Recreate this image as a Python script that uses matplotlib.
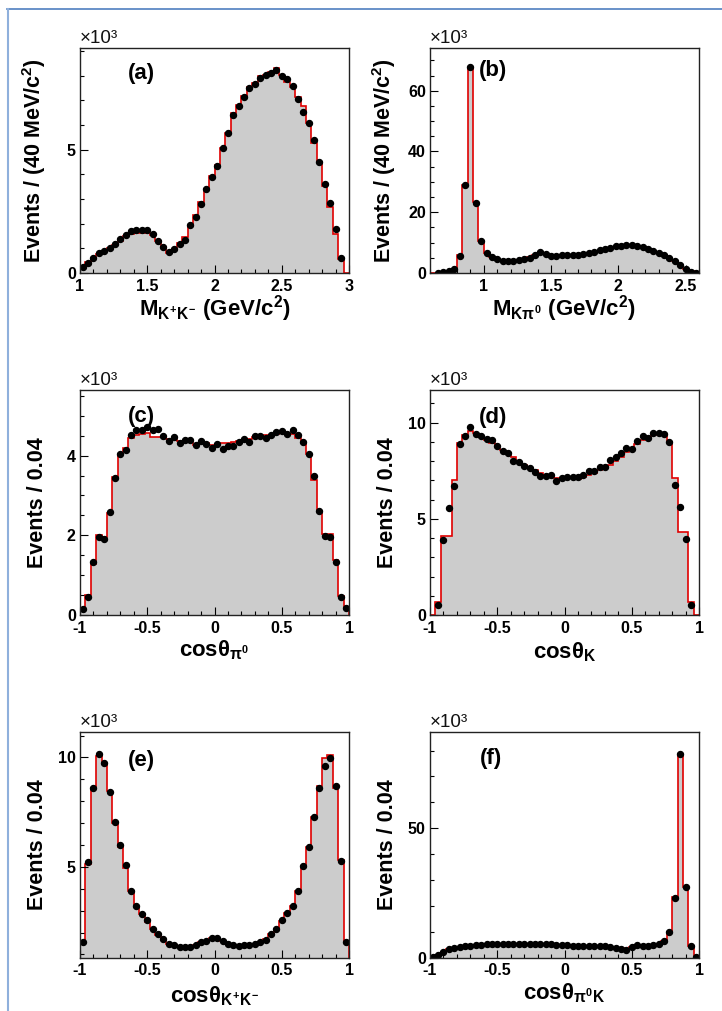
import numpy as np
import matplotlib
matplotlib.use('Agg')
import matplotlib.pyplot as plt
from matplotlib.ticker import MultipleLocator, FuncFormatter
from matplotlib.lines import Line2D

plt.rcParams['font.family'] = 'Liberation Sans'
plt.rcParams['font.weight'] = 'bold'
plt.rcParams['mathtext.fontset'] = 'custom'
plt.rcParams['mathtext.rm'] = 'Liberation Sans:bold'
plt.rcParams['mathtext.it'] = 'Liberation Sans:bold'
plt.rcParams['mathtext.bf'] = 'Liberation Sans:bold'
plt.rcParams['axes.unicode_minus'] = False

nan = np.nan

# (a) M(K+K-), 1.0 - 3.0 GeV/c2, 40 MeV bins, units of 10^3
mkk_data = [0.24, 0.42, 0.62, 0.80, 0.89, 1.00, 1.17, 1.36, 1.54, 1.71,
            1.75, 1.76, 1.76, 1.57, 1.30, 1.07, 0.85, 0.98, 1.18, 1.33,
            1.95, 2.29, 2.78, 3.39, 3.89, 4.32, 5.05, 5.66, 6.41, 6.79,
            7.15, 7.49, 7.67, 7.91, 8.05, 8.13, 8.25, 8.01, 7.87, 7.57,
            7.06, 6.54, 6.10, 5.41, 4.49, 3.60, 2.82, 1.78, 0.62, nan]
mkk_mc = [0.25, 0.43, 0.62, 0.78, 0.90, 1.02, 1.15, 1.30, 1.48, 1.60,
          1.63, 1.63, 1.63, 1.55, 1.30, 1.05, 0.80, 0.93, 1.22, 1.46,
          1.90, 2.36, 2.86, 3.40, 3.92, 4.36, 5.07, 5.66, 6.48, 6.83,
          7.19, 7.54, 7.72, 7.98, 8.05, 8.15, 8.32, 8.05, 7.76, 7.55,
          7.12, 6.76, 6.10, 5.26, 4.49, 3.53, 2.68, 1.60, 0.55, 0.0]

# (b) M(K pi0), 0.6 - 2.6 GeV/c2
mkpi_data = [nan, 0.1, 0.3, 0.6, 1.4, 5.5, 28.9, 67.7, 23.2, 10.4,
             6.6, 5.3, 4.5, 4.0, 3.85, 4.0, 4.3, 4.5, 5.0, 5.9,
             7.0, 6.4, 5.6, 5.7, 5.8, 5.9, 5.9, 6.0, 6.4, 6.7,
             6.9, 7.4, 7.8, 8.2, 8.8, 8.9, 9.2, 9.1, 8.8, 8.4,
             7.8, 7.3, 6.7, 5.9, 4.9, 4.1, 2.7, 1.4, 0.4, 0.1]
mkpi_mc = [0.0, 0.1, 0.3, 0.6, 1.3, 5.8, 28.9, 67.5, 23.4, 10.4,
           6.5, 5.3, 4.5, 4.0, 3.9, 4.0, 4.3, 4.6, 5.1, 5.9,
           6.8, 6.3, 5.6, 5.6, 5.8, 5.9, 5.9, 6.0, 6.4, 6.7,
           6.9, 7.3, 7.7, 8.2, 8.7, 8.9, 9.1, 9.1, 8.8, 8.4,
           7.8, 7.3, 6.7, 5.9, 4.9, 4.0, 2.7, 1.4, 0.5, 0.1]

# (c) cos(theta_pi0)
cpi_data = [0.14, 0.46, 1.34, 1.97, 1.92, 2.58, 3.44, 4.03, 4.13, 4.51,
            4.64, 4.64, 4.72, 4.64, 4.66, 4.50, 4.37, 4.48, 4.33, 4.39,
            4.39, 4.28, 4.38, 4.30, 4.18, 4.29, 4.16, 4.25, 4.25, 4.34,
            4.43, 4.35, 4.49, 4.49, 4.45, 4.53, 4.59, 4.61, 4.55, 4.65,
            4.53, 4.34, 4.03, 3.49, 2.60, 1.98, 1.95, 1.34, 0.46, 0.18]
cpi_mc = [0.18, 0.50, 1.29, 2.00, 1.97, 2.57, 3.47, 4.03, 4.20, 4.45,
          4.53, 4.55, 4.57, 4.46, 4.46, 4.46, 4.43, 4.40, 4.38, 4.38,
          4.38, 4.28, 4.32, 4.32, 4.28, 4.30, 4.31, 4.32, 4.35, 4.36,
          4.40, 4.42, 4.46, 4.49, 4.53, 4.53, 4.55, 4.57, 4.57, 4.55,
          4.44, 4.33, 4.03, 3.40, 2.60, 2.03, 2.03, 1.37, 0.47, 0.15]

# (d) cos(theta_K)
ck_data = [nan, 0.52, 3.91, 5.57, 6.70, 8.87, 9.31, 9.76, 9.41, 9.29,
           9.15, 9.10, 8.80, 8.52, 8.40, 8.02, 7.93, 7.73, 7.62, 7.45,
           7.22, 7.20, 7.27, 6.96, 7.14, 7.17, 7.17, 7.19, 7.27, 7.50,
           7.47, 7.69, 7.69, 8.07, 8.23, 8.40, 8.70, 8.63, 9.05, 9.32,
           9.20, 9.46, 9.46, 9.41, 8.98, 6.75, 5.61, 3.94, 0.50, nan]
ck_mc = [0.0, 0.68, 4.10, 4.10, 7.03, 8.94, 9.35, 9.55, 9.45, 9.25,
         9.10, 8.95, 8.80, 8.60, 8.40, 8.20, 8.00, 7.82, 7.68, 7.52,
         7.40, 7.30, 7.22, 7.12, 7.08, 7.10, 7.10, 7.07, 7.15, 7.30,
         7.38, 7.52, 7.62, 7.80, 8.00, 8.20, 8.45, 8.55, 8.90, 9.10,
         9.20, 9.35, 9.40, 9.35, 9.00, 7.13, 4.29, 4.29, 0.68, 0.0]

# (e) cos(theta_K+K-)
ckk_data = [1.58, 5.23, 8.62, 10.14, 9.74, 8.41, 7.05, 5.98, 5.08, 3.92,
            3.20, 2.86, 2.56, 2.18, 1.92, 1.71, 1.50, 1.42, 1.36, 1.36,
            1.36, 1.44, 1.55, 1.61, 1.74, 1.74, 1.61, 1.50, 1.44, 1.38,
            1.41, 1.41, 1.47, 1.58, 1.67, 1.92, 2.17, 2.56, 2.89, 3.23,
            3.89, 5.03, 5.91, 7.26, 8.62, 9.62, 9.98, 8.68, 5.29, 1.55]
ckk_mc = [1.50, 5.15, 8.62, 10.05, 9.70, 8.45, 7.00, 5.90, 4.95, 3.90,
          3.15, 2.85, 2.50, 2.15, 1.90, 1.68, 1.50, 1.42, 1.37, 1.37,
          1.38, 1.45, 1.55, 1.63, 1.74, 1.72, 1.60, 1.50, 1.43, 1.38,
          1.40, 1.42, 1.48, 1.57, 1.70, 1.93, 2.17, 2.55, 2.88, 3.23,
          3.92, 5.00, 5.93, 7.28, 8.70, 9.98, 10.10, 8.60, 5.33, 1.55]

# (f) cos(theta_pi0K)
cpik_data = [0.1, 1.0, 2.3, 3.1, 3.6, 4.0, 4.4, 4.6, 4.8, 5.0,
             5.2, 5.3, 5.4, 5.4, 5.4, 5.4, 5.4, 5.3, 5.3, 5.3,
             5.3, 5.2, 5.2, 5.0, 4.9, 4.8, 4.6, 4.6, 4.6, 4.6,
             4.6, 4.5, 4.4, 4.1, 3.7, 3.4, 3.0, 3.9, 4.8, 4.6,
             4.6, 4.8, 5.2, 6.4, 9.7, 23.1, 78.7, 27.1, 4.5, 0.1]
cpik_mc = [0.2, 1.1, 2.3, 3.1, 3.6, 4.0, 4.4, 4.6, 4.8, 5.0,
           5.2, 5.3, 5.4, 5.4, 5.4, 5.4, 5.4, 5.3, 5.3, 5.3,
           5.3, 5.2, 5.2, 5.0, 4.9, 4.8, 4.7, 4.6, 4.6, 4.6,
           4.6, 4.5, 4.4, 4.1, 3.8, 3.5, 3.1, 3.9, 4.7, 4.6,
           4.6, 4.8, 5.2, 6.2, 10.0, 23.5, 78.7, 27.1, 4.5, 0.2]

ylab_mass = 'Events / (40 MeV/c$^{2}$)'
ylab_cos = 'Events / 0.04'


def fmt(v, pos):
    if abs(v) < 1e-9:
        return '0'
    return '%g' % round(v, 3)


def draw(ax, lo, hi, mc, data, ylim, ymaj, ymin_step, xmaj, xlabel, ylabel,
         tag, xlab_y, tag_xy):
    edges = np.linspace(lo, hi, len(mc) + 1)
    centers = 0.5 * (edges[:-1] + edges[1:])
    ax.stairs(mc, edges, fill=True, color='#cccccc', lw=0)
    ax.stairs(mc, edges, color='#e00000', lw=1.2, baseline=0)
    ax.plot(centers, data, 'o', color='black', ms=4.3, ls='none')
    ax.set_xlim(lo, hi)
    ax.set_ylim(*ylim)
    ax.xaxis.set_major_locator(MultipleLocator(xmaj))
    ax.xaxis.set_minor_locator(MultipleLocator(0.1))
    ax.yaxis.set_major_locator(MultipleLocator(ymaj))
    ax.yaxis.set_minor_locator(MultipleLocator(ymin_step))
    ax.xaxis.set_major_formatter(FuncFormatter(fmt))
    ax.yaxis.set_major_formatter(FuncFormatter(fmt))
    ax.tick_params(which='both', direction='in', top=False, right=False,
                   width=0.8, labelsize=11.5)
    ax.tick_params(which='major', length=6)
    ax.tick_params(which='minor', length=3)
    ax.tick_params(axis='x', pad=4)
    ax.tick_params(axis='y', pad=3)
    for s in ax.spines.values():
        s.set_linewidth(1.0)
        s.set_color('#222222')
    ax.set_xlabel(xlabel, fontsize=16, fontweight='bold')
    ax.set_ylabel(ylabel, fontsize=15.5, fontweight='bold')
    ax.xaxis.set_label_coords(0.5, xlab_y)
    ax.yaxis.set_label_coords(-0.118, 0.5)
    ax.text(tag_xy[0], tag_xy[1], tag, transform=ax.transAxes, ha='center',
            va='center', fontsize=16, fontweight='bold')
    ax.text(0.0, 1.005, '×10³', transform=ax.transAxes, ha='left',
            va='bottom', fontsize=13.5, fontweight='normal', color='#111111')


fig = plt.figure(figsize=(7.22, 10.11), dpi=100)
w, h = 0.3726, 0.2226
xl, xr = 0.1108, 0.5956
ax_a = fig.add_axes([xl, 0.7300, w, h])
ax_b = fig.add_axes([xr, 0.7300, w, h])
ax_c = fig.add_axes([xl, 0.3917, w, h])
ax_d = fig.add_axes([xr, 0.3917, w, h])
ax_e = fig.add_axes([xl, 0.0529, w, h])
ax_f = fig.add_axes([xr, 0.0529, w, h])

draw(ax_a, 1.0, 3.0, mkk_mc, mkk_data, (0, 9.13), 5, 1, 0.5,
     'M$_{K^{+}K^{-}}$ (GeV/c$^{2}$)', ylab_mass, '(a)', -0.09, (0.23, 0.885))
draw(ax_b, 0.6, 2.6, mkpi_mc, mkpi_data, (0, 74.1), 20, 5, 0.5,
     'M$_{K\\pi^{0}}$ (GeV/c$^{2}$)', ylab_mass, '(b)', -0.09, (0.234, 0.898))
draw(ax_c, -1.0, 1.0, cpi_mc, cpi_data, (0, 5.65), 2, 0.5, 0.5,
     'cos$\\theta_{\\pi^{0}}$', ylab_cos, '(c)', -0.105, (0.23, 0.882))
draw(ax_d, -1.0, 1.0, ck_mc, ck_data, (0, 11.7), 5, 1, 0.5,
     'cos$\\theta_{K}$', ylab_cos, '(d)', -0.115, (0.234, 0.877))
draw(ax_e, -1.0, 1.0, ckk_mc, ckk_data, (0.86, 11.14), 5, 1, 0.5,
     'cos$\\theta_{K^{+}K^{-}}$', ylab_cos, '(e)', -0.12, (0.23, 0.876))
draw(ax_f, -1.0, 1.0, cpik_mc, cpik_data, (0, 87), 50, 10, 0.5,
     'cos$\\theta_{\\pi^{0}K}$', ylab_cos, '(f)', -0.105, (0.227, 0.885))

# page frame lines seen at top and left edge of the scan
fig.add_artist(Line2D([7 / 722, 1.0], [1 - 8.5 / 1011, 1 - 8.5 / 1011],
                      transform=fig.transFigure, color='#4f7fc0', lw=1.2))
fig.add_artist(Line2D([7.5 / 722, 7.5 / 722], [1 - 8.5 / 1011, 0.0],
                      transform=fig.transFigure, color='#8fb0dc', lw=1.5))

fig.savefig('out.png', dpi=100)
